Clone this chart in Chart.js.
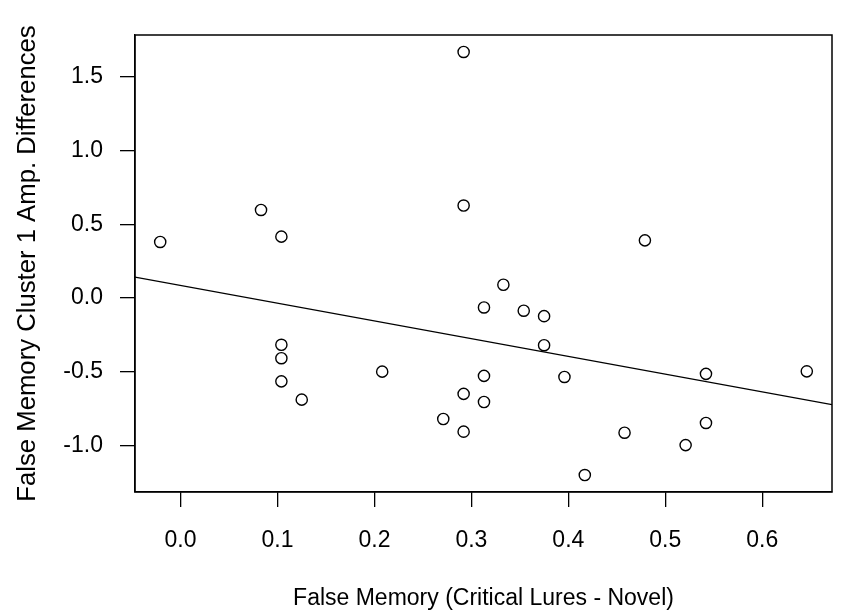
<!DOCTYPE html>
<html>
<head>
<meta charset="utf-8">
<script src="https://cdn.jsdelivr.net/npm/chart.js@4/dist/chart.umd.min.js"></script>
<style>
  html, body { margin: 0; padding: 0; background: #fff; }
  #wrap { width: 858px; height: 616px; }
</style>
</head>
<body>
<div id="wrap"><canvas id="scatter"></canvas></div>
<script>
// false memory score (x) vs cluster 1 amplitude difference (y), one point per subject
var mem_x = [-0.021, 0.083, 0.104, 0.292, 0.292, 0.479, 0.104, 0.104, 0.104, 0.125,
             0.208, 0.292, 0.271, 0.292, 0.333, 0.313, 0.354, 0.375, 0.375, 0.313,
             0.396, 0.313, 0.458, 0.417, 0.521, 0.542, 0.542, 0.646];
var amp_y = [0.380, 0.597, 0.416, 1.668, 0.627, 0.391, -0.317, -0.408, -0.565, -0.689,
             -0.499, -0.650, -0.820, -0.906, 0.090, -0.064, -0.086, -0.123, -0.320, -0.528,
             -0.535, -0.705, -0.913, -1.200, -0.997, -0.847, -0.514, -0.497];

// regression line end points (read at the plot box edges)
var fit_x = [-0.047, 0.672];
var fit_y = [0.142, -0.723];

var x_ticks = [0.0, 0.1, 0.2, 0.3, 0.4, 0.5, 0.6];
var y_ticks = [-1.0, -0.5, 0.0, 0.5, 1.0, 1.5];
var x_limits = [-0.047, 0.672];
var y_limits = [-1.315, 1.783];

var x_title = "False Memory (Critical Lures - Novel)";
var y_title = "False Memory Cluster 1 Amp. Differences";

Chart.defaults.font.family = "'Liberation Sans', Arial, sans-serif";
Chart.defaults.color = "#000";

function to_points(xs, ys) {
    var pts = [];
    for (var i = 0; i < xs.length; i++) {
        pts.push({x: xs[i], y: ys[i]});
    }
    return pts;
}

// R style box round the plot region
var box_plugin = {
    id: "box",
    afterDraw: function(chart) {
        var a = chart.chartArea;
        var ctx = chart.ctx;
        ctx.save();
        ctx.strokeStyle = "#000";
        ctx.lineWidth = 1.5;
        ctx.strokeRect(a.left, a.top, a.right - a.left, a.bottom - a.top);
        ctx.restore();
    }
};

function axis_opts(ticks, limits, title, fit, pad, title_size, title_pad) {
    return {
        type: "linear",
        min: limits[0],
        max: limits[1],
        afterBuildTicks: function(scale) {
            scale.ticks = ticks.map(function(v) { return {value: v}; });
        },
        afterFit: fit,
        grid: {
            display: true,
            drawOnChartArea: false,
            drawTicks: true,
            tickLength: 15,
            color: "#000",
            lineWidth: 1.3
        },
        border: { display: true, color: "#000", width: 1.3 },
        ticks: {
            font: { size: 23 },
            color: "#000",
            padding: pad,
            maxRotation: 0,
            autoSkip: false,
            callback: function(v) { return Number(v).toFixed(1); }
        },
        title: {
            display: true,
            text: title,
            font: { size: title_size },
            color: "#000",
            padding: title_pad
        }
    };
}

var ctx = document.getElementById("scatter").getContext("2d");
var myChart = new Chart(ctx, {
    type: "scatter",
    data: {
        datasets: [{
            label: "subjects",
            data: to_points(mem_x, amp_y),
            pointStyle: "circle",
            pointRadius: 5.6,
            pointHoverRadius: 5.6,
            pointBorderWidth: 1.4,
            pointBackgroundColor: "rgba(0,0,0,0)",
            pointBorderColor: "#000",
            showLine: false
        }, {
            type: "line",
            label: "fit",
            data: to_points(fit_x, fit_y),
            borderColor: "#000",
            borderWidth: 1.4,
            pointRadius: 0,
            fill: false
        }]
    },
    options: {
        responsive: true,
        maintainAspectRatio: false,
        animation: false,
        layout: { padding: { top: 35, right: 26, left: 0, bottom: 0 } },
        plugins: {
            legend: { display: false },
            tooltip: { enabled: false }
        },
        scales: {
            x: axis_opts(x_ticks, x_limits, x_title,
                function(s) { s.height = 124; }, 20, 23, { top: 0, bottom: 4 }),
            y: axis_opts(y_ticks, y_limits, y_title,
                function(s) { s.width = 135; }, 17, 25.7, { top: 12, bottom: 0 })
        }
    },
    plugins: [box_plugin]
});
</script>
</body>
</html>
